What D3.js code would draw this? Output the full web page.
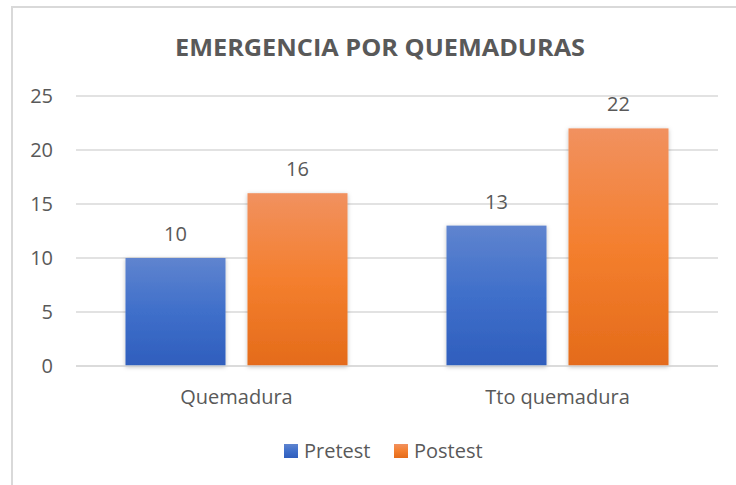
<!DOCTYPE html>
<html>
<head>
<meta charset="utf-8">
<script src="https://d3js.org/d3.v7.min.js"></script>
<style>
  body { margin: 0; background: #fff; }
  text { font-family: "Open Sans", sans-serif; fill: #595959; }
</style>
</head>
<body>
<script>
// datos del grafico
const categories = ['Quemadura', 'Tto quemadura'];
const seriesNames = ['Pretest', 'Postest'];
const pretest = [10, 13];
const postest = [16, 22];
const yTicks = [0, 5, 10, 15, 20, 25];
const title = 'EMERGENCIA POR QUEMADURAS';

const width = 736, height = 485;
const margin = {left: 76, right: 18, top: 96, bottom: 119};

const svg = d3.select('body').append('svg')
    .attr('width', width).attr('height', height);

// gradientes y sombra de las barras
const defs = svg.append('defs');
const grads = [
    {id: 'g0', top: '#5f84cf', mid: '#3f6fca', bottom: '#2f5ebd'},
    {id: 'g1', top: '#f1915f', mid: '#f47f2e', bottom: '#e46b1a'}
];
grads.forEach(g => {
    const lg = defs.append('linearGradient').attr('id', g.id)
        .attr('x1', 0).attr('y1', 0).attr('x2', 0).attr('y2', 1);
    lg.append('stop').attr('offset', '0%').attr('stop-color', g.top);
    lg.append('stop').attr('offset', '50%').attr('stop-color', g.mid);
    lg.append('stop').attr('offset', '100%').attr('stop-color', g.bottom);
});
const shadow = defs.append('filter').attr('id', 'shadow')
    .attr('x', '-20%').attr('y', '-20%').attr('width', '140%').attr('height', '140%');
shadow.append('feDropShadow').attr('dx', 0).attr('dy', 1)
    .attr('stdDeviation', 2).attr('flood-color', '#000').attr('flood-opacity', 0.25);

// borde del area del grafico (recortado a la derecha y abajo)
svg.append('rect')
    .attr('x', 12).attr('y', 7).attr('width', 800).attr('height', 600)
    .attr('fill', 'none').attr('stroke', '#d9d9d9').attr('stroke-width', 2);

// titulo
svg.append('text')
    .attr('x', 380).attr('y', 56)
    .attr('text-anchor', 'middle')
    .style('font-size', '24px').style('font-weight', 'bold')
    .attr('textLength', 410).attr('lengthAdjust', 'spacingAndGlyphs')
    .text(title);

const x0 = d3.scaleBand().domain(categories)
    .range([margin.left, width - margin.right]);
const y = d3.scaleLinear().domain([0, 25])
    .range([height - margin.bottom, margin.top]);

// rejilla
svg.append('g').selectAll('line')
    .data(yTicks).join('line')
    .attr('x1', margin.left).attr('x2', width - margin.right)
    .attr('y1', d => y(d)).attr('y2', d => y(d))
    .attr('stroke', '#d9d9d9').attr('stroke-width', 1.5);

// eje y
const yAxis = svg.append('g')
    .attr('transform', `translate(${margin.left},0)`)
    .call(d3.axisLeft(y).tickValues(yTicks).tickSize(0).tickPadding(23));
yAxis.select('.domain').remove();
yAxis.selectAll('text').style('font-size', '20px')
    .style('font-family', '"Open Sans", sans-serif').attr('fill', '#595959');

// barras
const barW = 100, gap = 22;
const data = categories.map((c, i) => ({cat: c, vals: [pretest[i], postest[i]]}));
const groups = svg.append('g').selectAll('g')
    .data(data).join('g')
    .attr('transform', d => `translate(${x0(d.cat) + x0.bandwidth() / 2},0)`);

groups.selectAll('rect')
    .data(d => d.vals).join('rect')
    .attr('x', (d, i) => i === 0 ? -gap / 2 - barW : gap / 2)
    .attr('width', barW)
    .attr('y', d => y(d))
    .attr('height', d => y(0) - y(d))
    .attr('fill', (d, i) => `url(#g${i})`)
    .attr('filter', 'url(#shadow)');

groups.selectAll('text.val')
    .data(d => d.vals).join('text')
    .attr('class', 'val')
    .attr('x', (d, i) => i === 0 ? -gap / 2 - barW / 2 : gap / 2 + barW / 2)
    .attr('y', d => y(d) - 17)
    .attr('text-anchor', 'middle')
    .style('font-size', '20px')
    .text(d => d);

// eje x
svg.append('line')
    .attr('x1', margin.left).attr('x2', width - margin.right)
    .attr('y1', y(0)).attr('y2', y(0))
    .attr('stroke', '#d9d9d9').attr('stroke-width', 1.5);

const xAxis = svg.append('g')
    .attr('transform', `translate(0,${y(0)})`)
    .call(d3.axisBottom(x0).tickSize(0).tickPadding(24));
xAxis.select('.domain').remove();
xAxis.selectAll('text').style('font-size', '20px')
    .style('font-family', '"Open Sans", sans-serif').attr('fill', '#595959');

// leyenda
const legendX = [284, 394];
const legend = svg.append('g').selectAll('g')
    .data(seriesNames).join('g')
    .attr('transform', (d, i) => `translate(${legendX[i]},444)`);
legend.append('rect')
    .attr('width', 14).attr('height', 14)
    .attr('fill', (d, i) => `url(#g${i})`);
legend.append('text')
    .attr('x', 20).attr('y', 14)
    .style('font-size', '20px')
    .text(d => d);
</script>
</body>
</html>
